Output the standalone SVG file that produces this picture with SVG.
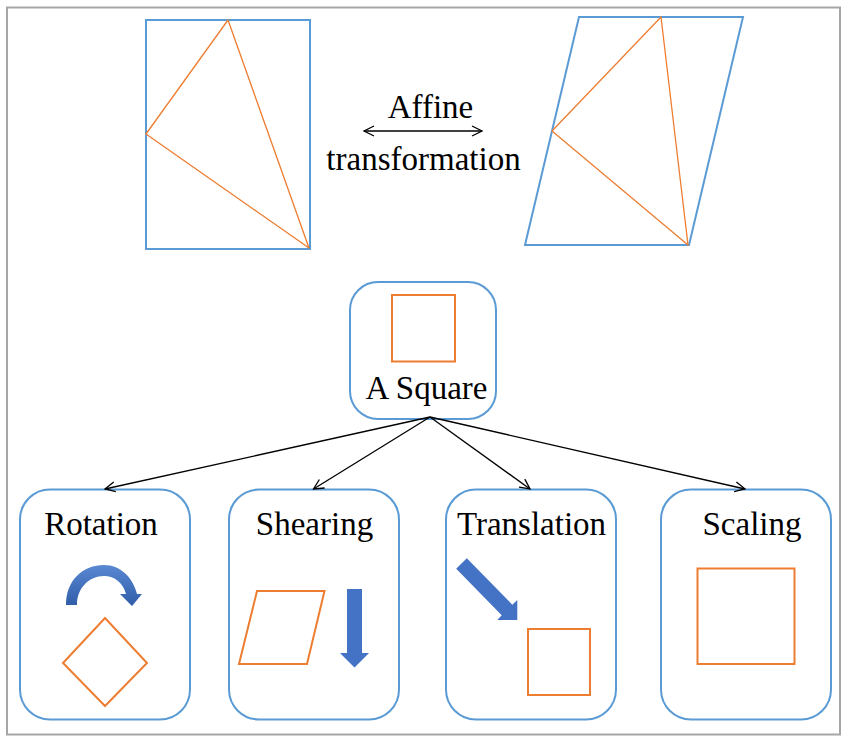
<svg xmlns="http://www.w3.org/2000/svg" width="850" height="747" viewBox="0 0 850 747">
<style>
.frame{fill:#fff;stroke:#A6A6A6;stroke-width:2}
.node{fill:#fff;stroke:#5B9BD5;stroke-width:2}
.blue{fill:none;stroke:#5B9BD5;stroke-width:2}
.tri{fill:none;stroke:#ED7D31;stroke-width:1.3;stroke-linejoin:round}
.sq{fill:none;stroke:#ED7D31;stroke-width:2}
.lbl{font-family:"Liberation Serif","Times New Roman",serif;font-size:33px;fill:#000;text-anchor:middle}
.conn{fill:none;stroke:#000;stroke-width:1.3}
.shape{fill:#4472C4}
</style>
<defs>
<marker id="ah" markerWidth="14" markerHeight="14" refX="11" refY="6" orient="auto-start-reverse" markerUnits="userSpaceOnUse">
<path d="M1,1 L11,6 L1,11" fill="none" stroke="#000" stroke-width="1.3"/>
</marker>
<linearGradient id="rg" x1="0" y1="0" x2="0" y2="1">
<stop offset="0" stop-color="#5A88D2"/>
<stop offset="1" stop-color="#2F5DA8"/>
</linearGradient>
</defs>
<rect class="frame" x="7" y="7.5" width="833" height="727"/>

<g id="original">
<rect class="blue" x="146" y="20" width="164" height="229"/>
<polygon class="tri" points="228,20 146,134 309,248"/>
</g>
<g id="affine-label">
<text class="lbl" x="430.5" y="117.5">Affine</text>
<text class="lbl" x="423.5" y="170">transformation</text>
</g>
<g id="transformed">
<polygon class="blue" points="579,17 743,17 689,245 525,245"/>
<polygon class="tri" points="661,17 552,131 688,245"/>
</g>

<g id="square-node">
<rect class="node" x="350" y="282" width="146" height="137" rx="28"/>
<rect class="sq" x="392" y="295" width="63" height="66.5"/>
<text class="lbl" x="426.5" y="399">A Square</text>
</g>

<g id="rotation">
<rect class="node" x="20" y="489.5" width="170" height="230" rx="30"/>
<text class="lbl" x="101" y="535">Rotation</text>
<path fill="url(#rg)" d="M66,605 C66,580 83,565 104,565 C121,565 133,578 137,594 L142,594 L132,606 L120,594 L126,594 C123,583 115,576 104,576 C89,576 77,588 77,605 Z"/>
<polygon class="sq" points="105,618 147,663 105,706 63,663"/>
</g>

<g id="shearing">
<rect class="node" x="229" y="489.5" width="170" height="230" rx="30"/>
<text class="lbl" x="314.5" y="535">Shearing</text>
<polygon class="sq" points="257,591 324.5,591 307,664 239,664"/>
<polygon class="shape" points="347,589 362,589 362,653 369,653 354.5,667.5 340,653 347,653"/>
</g>

<g id="translation">
<rect class="node" x="446" y="489.5" width="170" height="230" rx="30"/>
<text class="lbl" x="531.5" y="535">Translation</text>
<polygon class="shape" points="456.2,568.8 466.8,558.2 512.3,604.7 517.3,600 517.3,620 497.3,620 501.7,615.3"/>
<rect class="sq" x="528" y="629" width="62" height="66"/>
</g>

<g id="scaling">
<rect class="node" x="661" y="489.5" width="170" height="230" rx="30"/>
<text class="lbl" x="752" y="535">Scaling</text>
<rect class="sq" x="697.5" y="568.5" width="97" height="95.5"/>
</g>

<g id="connectors">
<line class="conn" x1="364" y1="131" x2="482" y2="131" marker-start="url(#ah)" marker-end="url(#ah)"/>
<line class="conn" x1="430" y1="417" x2="105" y2="489" marker-end="url(#ah)"/>
<line class="conn" x1="430" y1="417" x2="313.5" y2="489" marker-end="url(#ah)"/>
<line class="conn" x1="430" y1="417" x2="530" y2="489" marker-end="url(#ah)"/>
<line class="conn" x1="430" y1="417" x2="745" y2="489" marker-end="url(#ah)"/>
</g>
</svg>
